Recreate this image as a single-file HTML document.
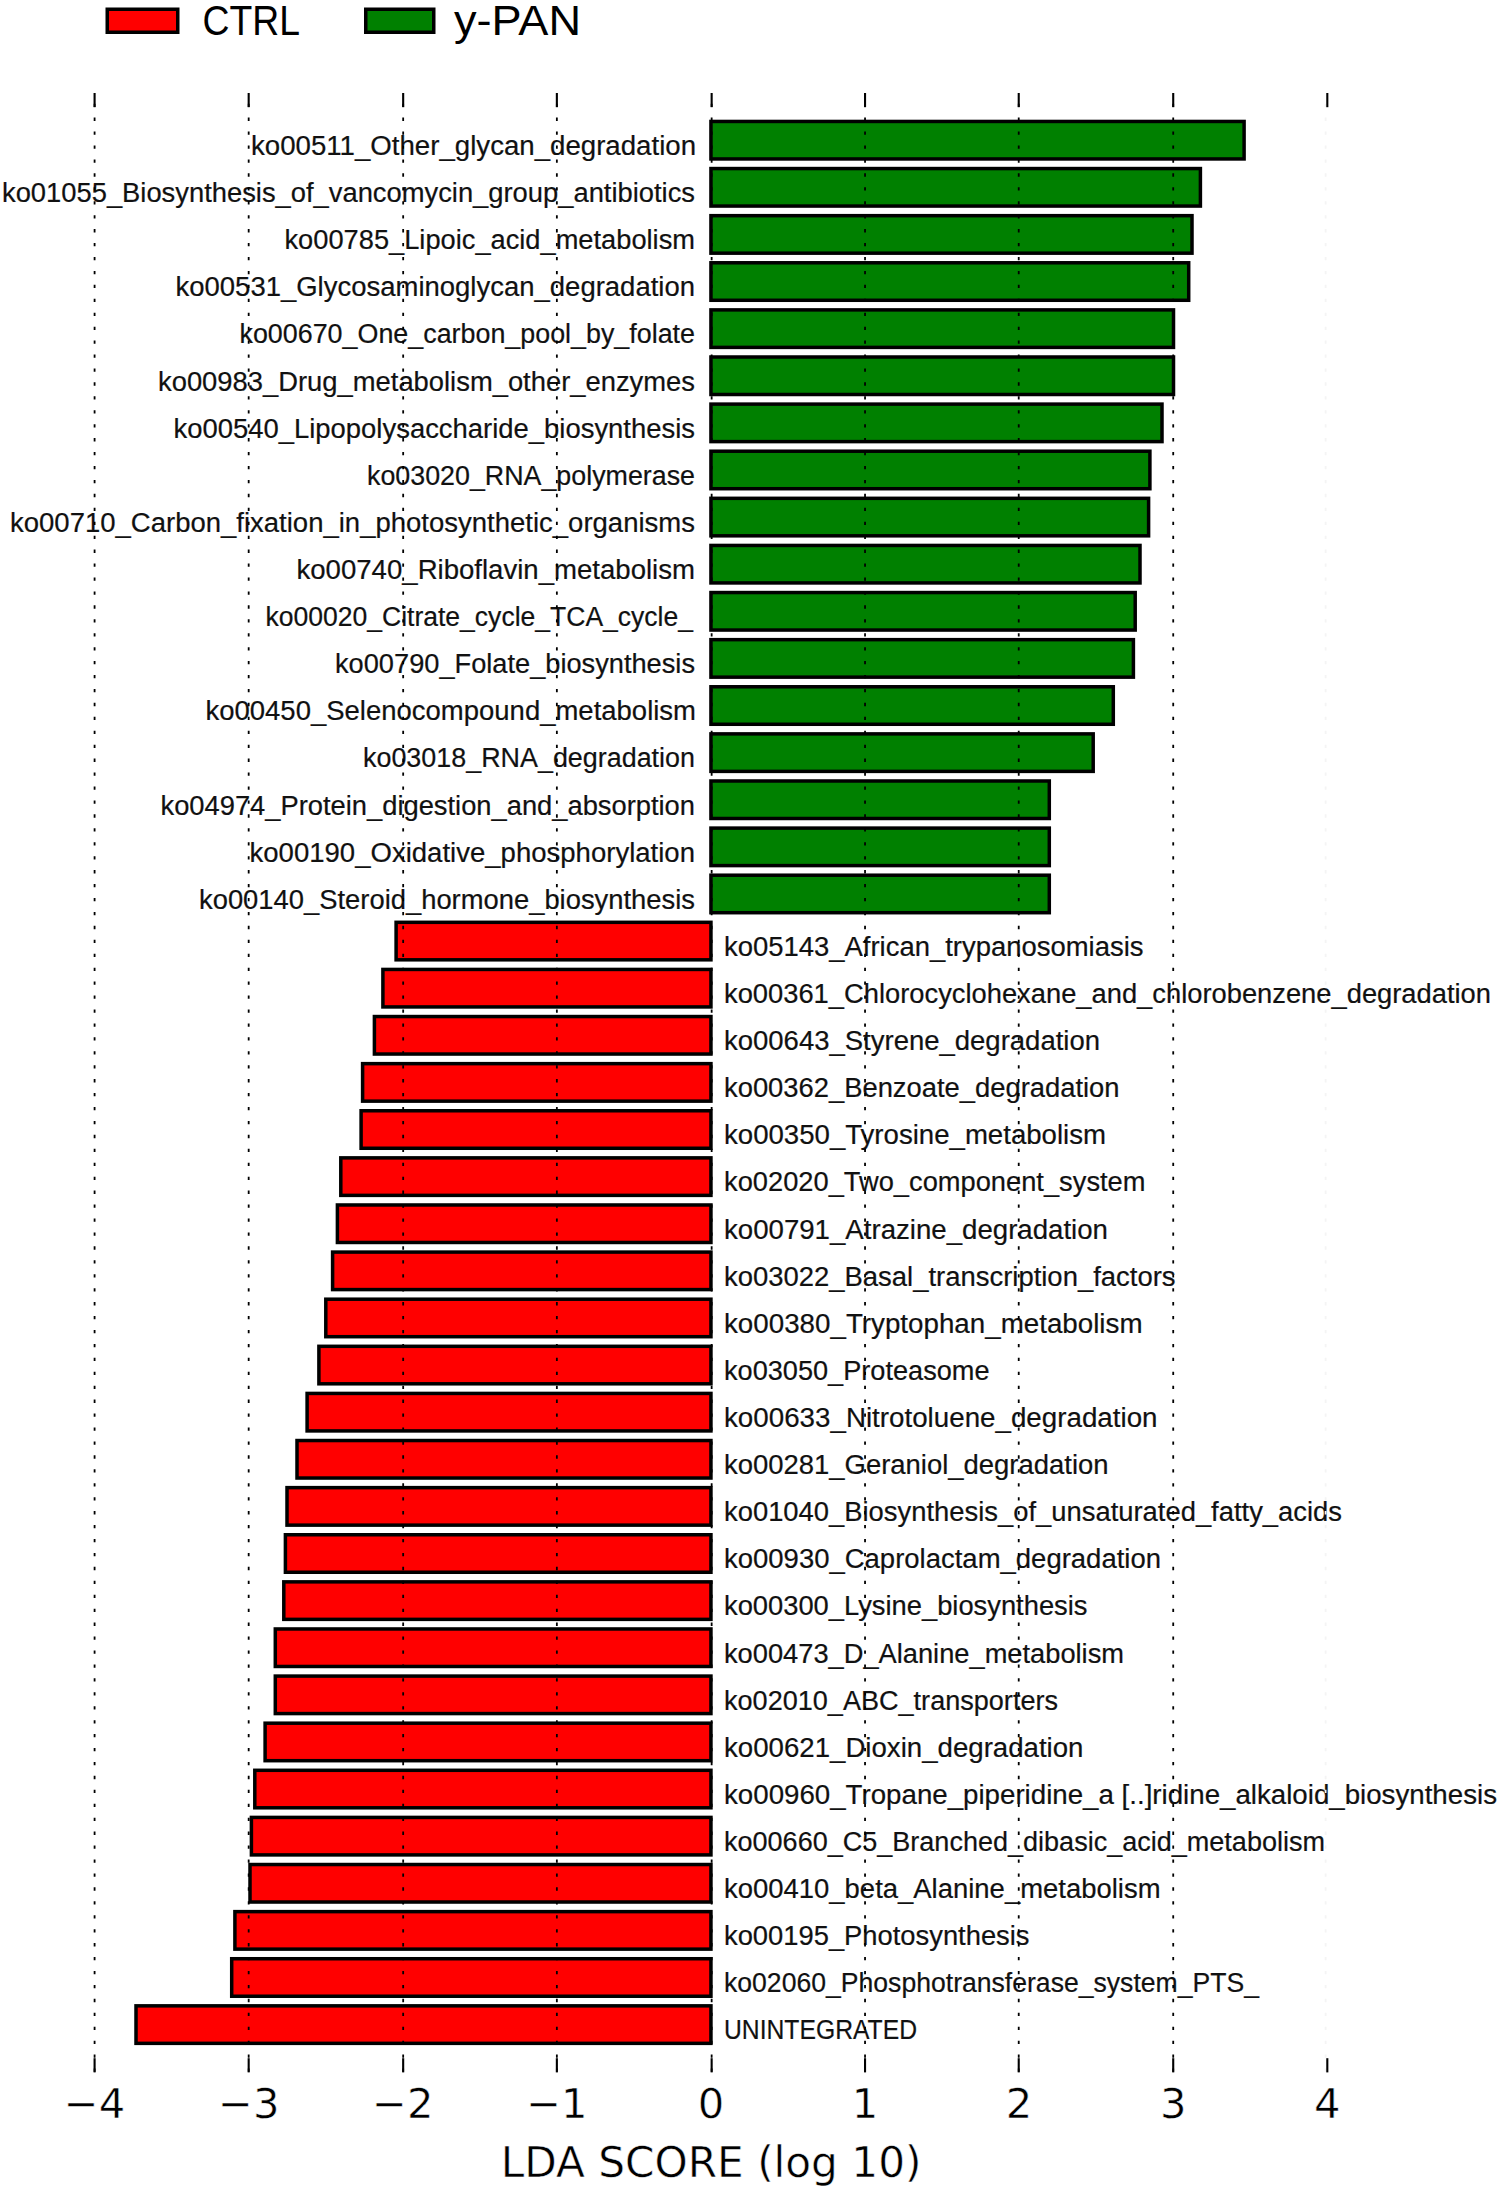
<!DOCTYPE html>
<html lang="en"><head><meta charset="utf-8"><title>LDA SCORE (log 10)</title>
<style>html,body{margin:0;padding:0;background:#fff}body{width:1500px;height:2189px;overflow:hidden}svg{display:block}.lb{font-family:"Liberation Sans",sans-serif;font-size:27px;fill:#111;stroke:#111;stroke-width:.2px}.lg{font-family:"Liberation Sans",sans-serif;font-size:42.5px;fill:#000}.tk{font-family:"DejaVu Sans","Liberation Sans",sans-serif;font-size:41.7px;fill:#000;text-anchor:middle;stroke:#fff;stroke-width:.5px}.g{stroke:#000;stroke-width:3.5;stroke-linejoin:miter}</style></head><body>
<svg width="1500" height="2189" viewBox="0 0 1500 2189">
<rect width="1500" height="2189" fill="#fff"/>
<rect class="g" x="107.25" y="9.25" width="70.5" height="23" fill="#f00"/>
<rect class="g" x="365.75" y="9.25" width="68" height="23" fill="#008000"/>
<text class="lg" x="202.51" y="35.2" textLength="97.49" lengthAdjust="spacingAndGlyphs">CTRL</text>
<text class="lg" x="454.00" y="35.2" textLength="127.00" lengthAdjust="spacingAndGlyphs">y-PAN</text>
<g class="g" fill="#008000">
<rect x="710.95" y="121.45" width="533.15" height="37.50"/>
<rect x="710.95" y="168.56" width="489.45" height="37.50"/>
<rect x="710.95" y="215.67" width="481.05" height="37.50"/>
<rect x="710.95" y="262.78" width="477.75" height="37.50"/>
<rect x="710.95" y="309.89" width="462.55" height="37.50"/>
<rect x="710.95" y="357.00" width="462.55" height="37.50"/>
<rect x="710.95" y="404.11" width="451.05" height="37.50"/>
<rect x="710.95" y="451.22" width="438.95" height="37.50"/>
<rect x="710.95" y="498.33" width="437.65" height="37.50"/>
<rect x="710.95" y="545.44" width="429.05" height="37.50"/>
<rect x="710.95" y="592.55" width="424.25" height="37.50"/>
<rect x="710.95" y="639.66" width="422.45" height="37.50"/>
<rect x="710.95" y="686.77" width="402.35" height="37.50"/>
<rect x="710.95" y="733.88" width="382.25" height="37.50"/>
<rect x="710.95" y="780.99" width="338.35" height="37.50"/>
<rect x="710.95" y="828.10" width="338.35" height="37.50"/>
<rect x="710.95" y="875.21" width="338.35" height="37.50"/>
</g>
<g class="g" fill="#f00">
<rect x="396.10" y="922.32" width="314.85" height="37.50"/>
<rect x="382.90" y="969.43" width="328.05" height="37.50"/>
<rect x="374.40" y="1016.54" width="336.55" height="37.50"/>
<rect x="362.60" y="1063.65" width="348.35" height="37.50"/>
<rect x="361.10" y="1110.76" width="349.85" height="37.50"/>
<rect x="340.80" y="1157.87" width="370.15" height="37.50"/>
<rect x="337.40" y="1204.98" width="373.55" height="37.50"/>
<rect x="332.60" y="1252.09" width="378.35" height="37.50"/>
<rect x="325.80" y="1299.20" width="385.15" height="37.50"/>
<rect x="318.90" y="1346.31" width="392.05" height="37.50"/>
<rect x="307.10" y="1393.42" width="403.85" height="37.50"/>
<rect x="297.00" y="1440.53" width="413.95" height="37.50"/>
<rect x="287.00" y="1487.64" width="423.95" height="37.50"/>
<rect x="285.40" y="1534.75" width="425.55" height="37.50"/>
<rect x="283.80" y="1581.86" width="427.15" height="37.50"/>
<rect x="275.30" y="1628.97" width="435.65" height="37.50"/>
<rect x="275.30" y="1676.08" width="435.65" height="37.50"/>
<rect x="265.10" y="1723.19" width="445.85" height="37.50"/>
<rect x="254.80" y="1770.30" width="456.15" height="37.50"/>
<rect x="251.40" y="1817.41" width="459.55" height="37.50"/>
<rect x="250.00" y="1864.52" width="460.95" height="37.50"/>
<rect x="234.90" y="1911.63" width="476.05" height="37.50"/>
<rect x="231.70" y="1958.74" width="479.25" height="37.50"/>
<rect x="136.00" y="2005.85" width="574.95" height="37.50"/>
</g>
<g class="lb">
<text x="251.00" y="155.00" textLength="445.01" lengthAdjust="spacingAndGlyphs">ko00511_Other_glycan_degradation</text>
<text x="2.00" y="202.11" textLength="693.00" lengthAdjust="spacingAndGlyphs">ko01055_Biosynthesis_of_vancomycin_group_antibiotics</text>
<text x="284.50" y="249.22" textLength="410.50" lengthAdjust="spacingAndGlyphs">ko00785_Lipoic_acid_metabolism</text>
<text x="175.50" y="296.33" textLength="519.50" lengthAdjust="spacingAndGlyphs">ko00531_Glycosaminoglycan_degradation</text>
<text x="239.50" y="343.44" textLength="455.50" lengthAdjust="spacingAndGlyphs">ko00670_One_carbon_pool_by_folate</text>
<text x="158.00" y="390.55" textLength="537.00" lengthAdjust="spacingAndGlyphs">ko00983_Drug_metabolism_other_enzymes</text>
<text x="173.50" y="437.66" textLength="521.50" lengthAdjust="spacingAndGlyphs">ko00540_Lipopolysaccharide_biosynthesis</text>
<text x="367.00" y="484.77" textLength="328.00" lengthAdjust="spacingAndGlyphs">ko03020_RNA_polymerase</text>
<text x="10.00" y="531.88" textLength="685.00" lengthAdjust="spacingAndGlyphs">ko00710_Carbon_fixation_in_photosynthetic_organisms</text>
<text x="296.50" y="578.99" textLength="398.50" lengthAdjust="spacingAndGlyphs">ko00740_Riboflavin_metabolism</text>
<text x="265.51" y="626.10" textLength="427.50" lengthAdjust="spacingAndGlyphs">ko00020_Citrate_cycle_TCA_cycle_</text>
<text x="335.00" y="673.21" textLength="360.00" lengthAdjust="spacingAndGlyphs">ko00790_Folate_biosynthesis</text>
<text x="205.49" y="720.32" textLength="490.51" lengthAdjust="spacingAndGlyphs">ko00450_Selenocompound_metabolism</text>
<text x="363.00" y="767.43" textLength="332.00" lengthAdjust="spacingAndGlyphs">ko03018_RNA_degradation</text>
<text x="160.50" y="814.54" textLength="534.50" lengthAdjust="spacingAndGlyphs">ko04974_Protein_digestion_and_absorption</text>
<text x="249.50" y="861.65" textLength="445.50" lengthAdjust="spacingAndGlyphs">ko00190_Oxidative_phosphorylation</text>
<text x="199.00" y="908.76" textLength="496.00" lengthAdjust="spacingAndGlyphs">ko00140_Steroid_hormone_biosynthesis</text>
<text x="724.00" y="955.87" textLength="419.50" lengthAdjust="spacingAndGlyphs">ko05143_African_trypanosomiasis</text>
<text x="724.00" y="1002.98" textLength="767.00" lengthAdjust="spacingAndGlyphs">ko00361_Chlorocyclohexane_and_chlorobenzene_degradation</text>
<text x="724.00" y="1050.09" textLength="376.00" lengthAdjust="spacingAndGlyphs">ko00643_Styrene_degradation</text>
<text x="724.00" y="1097.20" textLength="395.51" lengthAdjust="spacingAndGlyphs">ko00362_Benzoate_degradation</text>
<text x="723.99" y="1144.31" textLength="382.01" lengthAdjust="spacingAndGlyphs">ko00350_Tyrosine_metabolism</text>
<text x="724.00" y="1191.42" textLength="421.50" lengthAdjust="spacingAndGlyphs">ko02020_Two_component_system</text>
<text x="723.99" y="1238.53" textLength="384.01" lengthAdjust="spacingAndGlyphs">ko00791_Atrazine_degradation</text>
<text x="724.00" y="1285.64" textLength="451.50" lengthAdjust="spacingAndGlyphs">ko03022_Basal_transcription_factors</text>
<text x="724.00" y="1332.75" textLength="418.51" lengthAdjust="spacingAndGlyphs">ko00380_Tryptophan_metabolism</text>
<text x="724.00" y="1379.86" textLength="265.50" lengthAdjust="spacingAndGlyphs">ko03050_Proteasome</text>
<text x="724.00" y="1426.97" textLength="433.51" lengthAdjust="spacingAndGlyphs">ko00633_Nitrotoluene_degradation</text>
<text x="724.00" y="1474.08" textLength="384.51" lengthAdjust="spacingAndGlyphs">ko00281_Geraniol_degradation</text>
<text x="724.00" y="1521.19" textLength="618.00" lengthAdjust="spacingAndGlyphs">ko01040_Biosynthesis_of_unsaturated_fatty_acids</text>
<text x="724.00" y="1568.30" textLength="437.00" lengthAdjust="spacingAndGlyphs">ko00930_Caprolactam_degradation</text>
<text x="724.00" y="1615.41" textLength="363.50" lengthAdjust="spacingAndGlyphs">ko00300_Lysine_biosynthesis</text>
<text x="723.99" y="1662.52" textLength="400.01" lengthAdjust="spacingAndGlyphs">ko00473_D_Alanine_metabolism</text>
<text x="724.00" y="1709.63" textLength="334.00" lengthAdjust="spacingAndGlyphs">ko02010_ABC_transporters</text>
<text x="723.99" y="1756.74" textLength="359.51" lengthAdjust="spacingAndGlyphs">ko00621_Dioxin_degradation</text>
<text x="724.00" y="1803.85" textLength="773.00" lengthAdjust="spacingAndGlyphs">ko00960_Tropane_piperidine_a [..]ridine_alkaloid_biosynthesis</text>
<text x="724.00" y="1850.96" textLength="601.00" lengthAdjust="spacingAndGlyphs">ko00660_C5_Branched_dibasic_acid_metabolism</text>
<text x="724.00" y="1898.07" textLength="436.51" lengthAdjust="spacingAndGlyphs">ko00410_beta_Alanine_metabolism</text>
<text x="724.00" y="1945.18" textLength="305.51" lengthAdjust="spacingAndGlyphs">ko00195_Photosynthesis</text>
<text x="724.01" y="1992.29" textLength="535.00" lengthAdjust="spacingAndGlyphs">ko02060_Phosphotransferase_system_PTS_</text>
<text x="724.00" y="2039.40" textLength="193.01" lengthAdjust="spacingAndGlyphs">UNINTEGRATED</text>
</g>
<g stroke="#000" fill="none">
<line x1="94.59" y1="2071.80" x2="94.59" y2="93.00" stroke="#000" stroke-width="1.8" stroke-dasharray="3.3 10.635"/>
<line x1="94.59" y1="93.00" x2="94.59" y2="107.20" stroke-width="2.1"/>
<line x1="94.59" y1="2072.40" x2="94.59" y2="2058.20" stroke-width="2.1"/>
<line x1="248.68" y1="2071.80" x2="248.68" y2="93.00" stroke="#000" stroke-width="1.8" stroke-dasharray="3.3 10.635"/>
<line x1="248.68" y1="93.00" x2="248.68" y2="107.20" stroke-width="2.1"/>
<line x1="248.68" y1="2072.40" x2="248.68" y2="2058.20" stroke-width="2.1"/>
<line x1="403.17" y1="2071.80" x2="403.17" y2="93.00" stroke="#000" stroke-width="1.8" stroke-dasharray="3.3 10.635"/>
<line x1="403.17" y1="93.00" x2="403.17" y2="107.20" stroke-width="2.1"/>
<line x1="403.17" y1="2072.40" x2="403.17" y2="2058.20" stroke-width="2.1"/>
<line x1="556.86" y1="2071.80" x2="556.86" y2="93.00" stroke="#000" stroke-width="1.8" stroke-dasharray="3.3 10.635"/>
<line x1="556.86" y1="93.00" x2="556.86" y2="107.20" stroke-width="2.1"/>
<line x1="556.86" y1="2072.40" x2="556.86" y2="2058.20" stroke-width="2.1"/>
<line x1="711.65" y1="2071.80" x2="711.65" y2="93.00" stroke="#000" stroke-width="1.8" stroke-dasharray="3.3 10.635"/>
<line x1="711.65" y1="93.00" x2="711.65" y2="107.20" stroke-width="2.1"/>
<line x1="711.65" y1="2072.40" x2="711.65" y2="2058.20" stroke-width="2.1"/>
<line x1="865.04" y1="2071.80" x2="865.04" y2="93.00" stroke="#000" stroke-width="1.8" stroke-dasharray="3.3 10.635"/>
<line x1="865.04" y1="93.00" x2="865.04" y2="107.20" stroke-width="2.1"/>
<line x1="865.04" y1="2072.40" x2="865.04" y2="2058.20" stroke-width="2.1"/>
<line x1="1018.73" y1="2071.80" x2="1018.73" y2="93.00" stroke="#000" stroke-width="1.8" stroke-dasharray="3.3 10.635"/>
<line x1="1018.73" y1="93.00" x2="1018.73" y2="107.20" stroke-width="2.1"/>
<line x1="1018.73" y1="2072.40" x2="1018.73" y2="2058.20" stroke-width="2.1"/>
<line x1="1173.22" y1="2071.80" x2="1173.22" y2="93.00" stroke="#000" stroke-width="1.8" stroke-dasharray="3.3 10.635"/>
<line x1="1173.22" y1="93.00" x2="1173.22" y2="107.20" stroke-width="2.1"/>
<line x1="1173.22" y1="2072.40" x2="1173.22" y2="2058.20" stroke-width="2.1"/>
<line x1="1325.61" y1="2071.80" x2="1325.61" y2="93.00" stroke="#f4f4f4" stroke-width="1.8" stroke-dasharray="3.3 10.635"/>
<line x1="1327.31" y1="93.00" x2="1327.31" y2="107.20" stroke-width="2.1"/>
<line x1="1327.31" y1="2072.40" x2="1327.31" y2="2058.20" stroke-width="2.1"/>
</g>
<g class="tk">
<text x="94.59" y="2118">−4</text>
<text x="248.68" y="2118">−3</text>
<text x="402.77" y="2118">−2</text>
<text x="556.86" y="2118">−1</text>
<text x="710.95" y="2118">0</text>
<text x="865.04" y="2118">1</text>
<text x="1019.13" y="2118">2</text>
<text x="1173.22" y="2118">3</text>
<text x="1327.31" y="2118">4</text>
<text x="711.15" y="2176.8" style="font-size:42.2px" textLength="420.6" lengthAdjust="spacingAndGlyphs">LDA SCORE (log 10)</text>
</g>
</svg></body></html>
